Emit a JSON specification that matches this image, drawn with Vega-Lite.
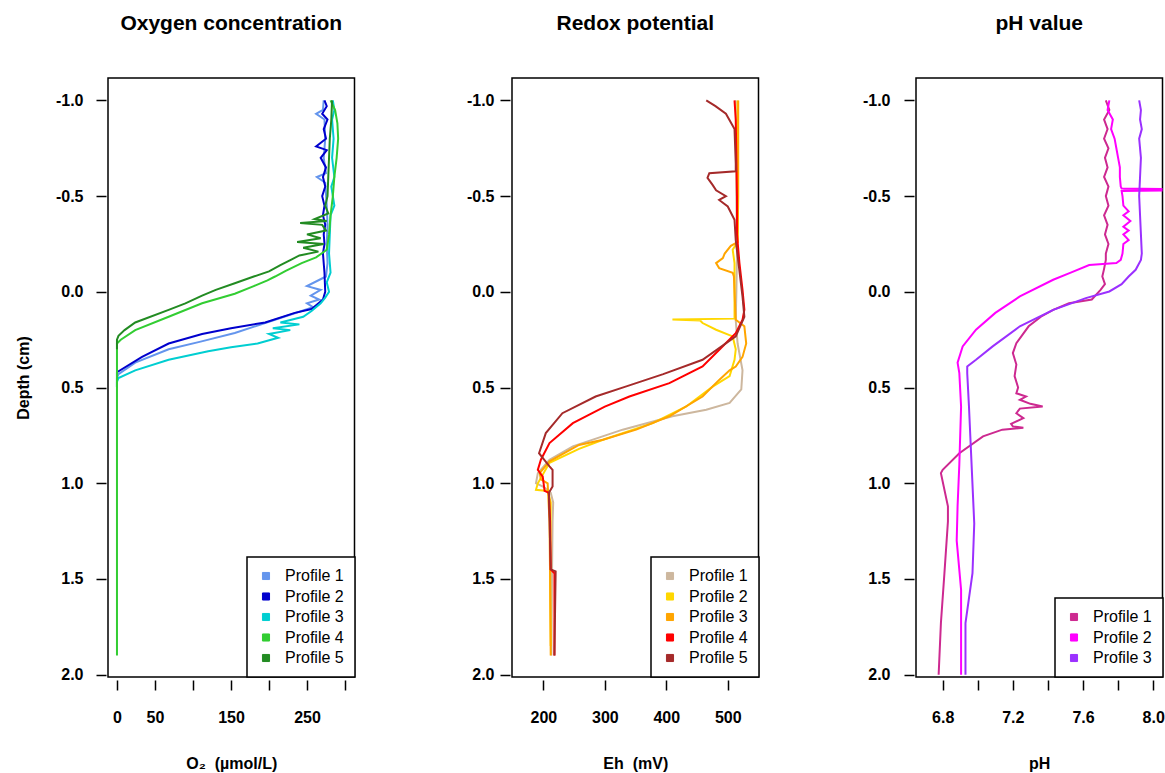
{
  "$schema": "https://vega.github.io/schema/vega-lite/v6.json",
  "background": "white",
  "padding": {"left": 14, "top": 12, "right": 2, "bottom": 5},
  "bounds": "flush",
  "spacing": 157,
  "config": {
    "font": "Liberation Sans",
    "view": {"stroke": "black", "strokeWidth": 1.5},
    "axis": {"grid": false, "domain": false, "labelFont": "Liberation Sans", "labelFontWeight": "bold", "labelFontSize": 16, "labelColor": "black", "tickColor": "black", "tickWidth": 1.5, "titleFont": "Liberation Sans", "titleFontWeight": "bold", "titleFontSize": 16, "titleColor": "black"},
    "axisX": {"offset": 3, "tickSize": 10, "labelPadding": 19, "titlePadding": 30, "labelOverlap": false},
    "axisY": {"offset": 2, "tickSize": 10, "labelPadding": 13, "titlePadding": 24, "labelOverlap": false},
    "title": {"font": "Liberation Sans", "fontSize": 21, "fontWeight": "bold", "color": "black", "anchor": "middle", "offset": 44},
    "legend": {"orient": "bottom-right", "offset": 0, "title": null, "strokeColor": "black", "strokeWidth": 1.5, "fillColor": "white", "padding": 11, "labelFont": "Liberation Sans", "labelFontSize": 16, "labelColor": "black", "symbolType": "square", "symbolSize": 50, "symbolStrokeColor": "#333333", "symbolStrokeWidth": 1, "rowPadding": 4.5, "labelOffset": 11}
  },
  "datasets": {
    "o2": [
      {"profile": "Profile 1", "depth": -1.0, "value": 272}, {"profile": "Profile 1", "depth": -0.95, "value": 271}, {"profile": "Profile 1", "depth": -0.93, "value": 262}, {"profile": "Profile 1", "depth": -0.9, "value": 273}, {"profile": "Profile 1", "depth": -0.8, "value": 274}, {"profile": "Profile 1", "depth": -0.7, "value": 272}, {"profile": "Profile 1", "depth": -0.62, "value": 275}, {"profile": "Profile 1", "depth": -0.6, "value": 263}, {"profile": "Profile 1", "depth": -0.57, "value": 274}, {"profile": "Profile 1", "depth": -0.45, "value": 276}, {"profile": "Profile 1", "depth": -0.35, "value": 277}, {"profile": "Profile 1", "depth": -0.25, "value": 276}, {"profile": "Profile 1", "depth": -0.15, "value": 277}, {"profile": "Profile 1", "depth": -0.08, "value": 275}, {"profile": "Profile 1", "depth": -0.03, "value": 250}, {"profile": "Profile 1", "depth": -0.01, "value": 268}, {"profile": "Profile 1", "depth": 0.02, "value": 255}, {"profile": "Profile 1", "depth": 0.04, "value": 266}, {"profile": "Profile 1", "depth": 0.06, "value": 250}, {"profile": "Profile 1", "depth": 0.08, "value": 258}, {"profile": "Profile 1", "depth": 0.1, "value": 243}, {"profile": "Profile 1", "depth": 0.15, "value": 205}, {"profile": "Profile 1", "depth": 0.215, "value": 155}, {"profile": "Profile 1", "depth": 0.26, "value": 110}, {"profile": "Profile 1", "depth": 0.3, "value": 68}, {"profile": "Profile 1", "depth": 0.37, "value": 24}, {"profile": "Profile 1", "depth": 0.43, "value": 2}, {"profile": "Profile 1", "depth": 0.45, "value": 0}, {"profile": "Profile 1", "depth": 0.5, "value": 0},
      {"profile": "Profile 2", "depth": -1.0, "value": 273}, {"profile": "Profile 2", "depth": -0.97, "value": 276}, {"profile": "Profile 2", "depth": -0.93, "value": 270}, {"profile": "Profile 2", "depth": -0.9, "value": 277}, {"profile": "Profile 2", "depth": -0.85, "value": 272}, {"profile": "Profile 2", "depth": -0.8, "value": 275}, {"profile": "Profile 2", "depth": -0.76, "value": 262}, {"profile": "Profile 2", "depth": -0.74, "value": 276}, {"profile": "Profile 2", "depth": -0.7, "value": 268}, {"profile": "Profile 2", "depth": -0.65, "value": 275}, {"profile": "Profile 2", "depth": -0.6, "value": 271}, {"profile": "Profile 2", "depth": -0.55, "value": 274}, {"profile": "Profile 2", "depth": -0.5, "value": 270}, {"profile": "Profile 2", "depth": -0.45, "value": 273}, {"profile": "Profile 2", "depth": -0.4, "value": 271}, {"profile": "Profile 2", "depth": -0.35, "value": 274}, {"profile": "Profile 2", "depth": -0.3, "value": 272}, {"profile": "Profile 2", "depth": -0.25, "value": 273}, {"profile": "Profile 2", "depth": -0.2, "value": 271}, {"profile": "Profile 2", "depth": -0.1, "value": 273}, {"profile": "Profile 2", "depth": 0.0, "value": 274}, {"profile": "Profile 2", "depth": 0.04, "value": 271}, {"profile": "Profile 2", "depth": 0.07, "value": 262}, {"profile": "Profile 2", "depth": 0.09, "value": 256}, {"profile": "Profile 2", "depth": 0.11, "value": 234}, {"profile": "Profile 2", "depth": 0.16, "value": 195}, {"profile": "Profile 2", "depth": 0.19, "value": 150}, {"profile": "Profile 2", "depth": 0.22, "value": 112}, {"profile": "Profile 2", "depth": 0.27, "value": 68}, {"profile": "Profile 2", "depth": 0.34, "value": 33}, {"profile": "Profile 2", "depth": 0.42, "value": 0}, {"profile": "Profile 2", "depth": 0.5, "value": 0},
      {"profile": "Profile 3", "depth": -1.0, "value": 284}, {"profile": "Profile 3", "depth": -0.95, "value": 286}, {"profile": "Profile 3", "depth": -0.9, "value": 283}, {"profile": "Profile 3", "depth": -0.8, "value": 285}, {"profile": "Profile 3", "depth": -0.7, "value": 283}, {"profile": "Profile 3", "depth": -0.6, "value": 286}, {"profile": "Profile 3", "depth": -0.55, "value": 282}, {"profile": "Profile 3", "depth": -0.5, "value": 284}, {"profile": "Profile 3", "depth": -0.45, "value": 286}, {"profile": "Profile 3", "depth": -0.4, "value": 281}, {"profile": "Profile 3", "depth": -0.3, "value": 280}, {"profile": "Profile 3", "depth": -0.2, "value": 279}, {"profile": "Profile 3", "depth": -0.1, "value": 281}, {"profile": "Profile 3", "depth": -0.05, "value": 276}, {"profile": "Profile 3", "depth": 0.0, "value": 279}, {"profile": "Profile 3", "depth": 0.03, "value": 274}, {"profile": "Profile 3", "depth": 0.06, "value": 268}, {"profile": "Profile 3", "depth": 0.1, "value": 256}, {"profile": "Profile 3", "depth": 0.13, "value": 245}, {"profile": "Profile 3", "depth": 0.16, "value": 215}, {"profile": "Profile 3", "depth": 0.17, "value": 240}, {"profile": "Profile 3", "depth": 0.19, "value": 205}, {"profile": "Profile 3", "depth": 0.2, "value": 228}, {"profile": "Profile 3", "depth": 0.22, "value": 200}, {"profile": "Profile 3", "depth": 0.24, "value": 212}, {"profile": "Profile 3", "depth": 0.27, "value": 185}, {"profile": "Profile 3", "depth": 0.29, "value": 150}, {"profile": "Profile 3", "depth": 0.31, "value": 120}, {"profile": "Profile 3", "depth": 0.355, "value": 68}, {"profile": "Profile 3", "depth": 0.41, "value": 24}, {"profile": "Profile 3", "depth": 0.45, "value": 2}, {"profile": "Profile 3", "depth": 0.47, "value": 0}, {"profile": "Profile 3", "depth": 0.5, "value": 0},
      {"profile": "Profile 4", "depth": -1.0, "value": 281}, {"profile": "Profile 4", "depth": -0.95, "value": 287}, {"profile": "Profile 4", "depth": -0.88, "value": 290}, {"profile": "Profile 4", "depth": -0.8, "value": 291}, {"profile": "Profile 4", "depth": -0.7, "value": 289}, {"profile": "Profile 4", "depth": -0.6, "value": 286}, {"profile": "Profile 4", "depth": -0.5, "value": 284}, {"profile": "Profile 4", "depth": -0.4, "value": 281}, {"profile": "Profile 4", "depth": -0.3, "value": 279}, {"profile": "Profile 4", "depth": -0.22, "value": 276}, {"profile": "Profile 4", "depth": -0.18, "value": 262}, {"profile": "Profile 4", "depth": -0.15, "value": 243}, {"profile": "Profile 4", "depth": -0.11, "value": 222}, {"profile": "Profile 4", "depth": -0.08, "value": 208}, {"profile": "Profile 4", "depth": -0.06, "value": 198}, {"profile": "Profile 4", "depth": -0.03, "value": 180}, {"profile": "Profile 4", "depth": 0.01, "value": 155}, {"profile": "Profile 4", "depth": 0.06, "value": 112}, {"profile": "Profile 4", "depth": 0.13, "value": 68}, {"profile": "Profile 4", "depth": 0.2, "value": 24}, {"profile": "Profile 4", "depth": 0.25, "value": 5}, {"profile": "Profile 4", "depth": 0.27, "value": 0}, {"profile": "Profile 4", "depth": 1.9, "value": 0},
      {"profile": "Profile 5", "depth": -1.0, "value": 283}, {"profile": "Profile 5", "depth": -0.9, "value": 282}, {"profile": "Profile 5", "depth": -0.8, "value": 280}, {"profile": "Profile 5", "depth": -0.7, "value": 279}, {"profile": "Profile 5", "depth": -0.6, "value": 278}, {"profile": "Profile 5", "depth": -0.5, "value": 277}, {"profile": "Profile 5", "depth": -0.45, "value": 274}, {"profile": "Profile 5", "depth": -0.41, "value": 278}, {"profile": "Profile 5", "depth": -0.38, "value": 260}, {"profile": "Profile 5", "depth": -0.37, "value": 276}, {"profile": "Profile 5", "depth": -0.36, "value": 241}, {"profile": "Profile 5", "depth": -0.35, "value": 270}, {"profile": "Profile 5", "depth": -0.32, "value": 275}, {"profile": "Profile 5", "depth": -0.3, "value": 250}, {"profile": "Profile 5", "depth": -0.28, "value": 268}, {"profile": "Profile 5", "depth": -0.26, "value": 237}, {"profile": "Profile 5", "depth": -0.25, "value": 272}, {"profile": "Profile 5", "depth": -0.23, "value": 245}, {"profile": "Profile 5", "depth": -0.21, "value": 265}, {"profile": "Profile 5", "depth": -0.19, "value": 240}, {"profile": "Profile 5", "depth": -0.17, "value": 230}, {"profile": "Profile 5", "depth": -0.14, "value": 215}, {"profile": "Profile 5", "depth": -0.107, "value": 200}, {"profile": "Profile 5", "depth": -0.08, "value": 180}, {"profile": "Profile 5", "depth": -0.045, "value": 155}, {"profile": "Profile 5", "depth": -0.01, "value": 130}, {"profile": "Profile 5", "depth": 0.02, "value": 112}, {"profile": "Profile 5", "depth": 0.06, "value": 90}, {"profile": "Profile 5", "depth": 0.094, "value": 68}, {"profile": "Profile 5", "depth": 0.16, "value": 24}, {"profile": "Profile 5", "depth": 0.2, "value": 10}, {"profile": "Profile 5", "depth": 0.23, "value": 2}, {"profile": "Profile 5", "depth": 0.25, "value": 0}, {"profile": "Profile 5", "depth": 0.3, "value": 0}
    ],
    "eh": [
      {"profile": "Profile 1", "depth": -1.0, "value": 513}, {"profile": "Profile 1", "depth": -0.5, "value": 514}, {"profile": "Profile 1", "depth": -0.2, "value": 515}, {"profile": "Profile 1", "depth": 0.0, "value": 514}, {"profile": "Profile 1", "depth": 0.15, "value": 513}, {"profile": "Profile 1", "depth": 0.27, "value": 516}, {"profile": "Profile 1", "depth": 0.41, "value": 524}, {"profile": "Profile 1", "depth": 0.51, "value": 522}, {"profile": "Profile 1", "depth": 0.58, "value": 503}, {"profile": "Profile 1", "depth": 0.616, "value": 465}, {"profile": "Profile 1", "depth": 0.65, "value": 410}, {"profile": "Profile 1", "depth": 0.72, "value": 329}, {"profile": "Profile 1", "depth": 0.807, "value": 248}, {"profile": "Profile 1", "depth": 0.877, "value": 210}, {"profile": "Profile 1", "depth": 0.947, "value": 191}, {"profile": "Profile 1", "depth": 1.0, "value": 188}, {"profile": "Profile 1", "depth": 1.02, "value": 201}, {"profile": "Profile 1", "depth": 1.05, "value": 212}, {"profile": "Profile 1", "depth": 1.1, "value": 216}, {"profile": "Profile 1", "depth": 1.2, "value": 215}, {"profile": "Profile 1", "depth": 1.5, "value": 214}, {"profile": "Profile 1", "depth": 1.9, "value": 213},
      {"profile": "Profile 2", "depth": -1.0, "value": 516}, {"profile": "Profile 2", "depth": -0.5, "value": 516}, {"profile": "Profile 2", "depth": -0.26, "value": 516}, {"profile": "Profile 2", "depth": -0.22, "value": 508}, {"profile": "Profile 2", "depth": -0.15, "value": 511}, {"profile": "Profile 2", "depth": 0.0, "value": 511}, {"profile": "Profile 2", "depth": 0.14, "value": 511}, {"profile": "Profile 2", "depth": 0.145, "value": 410}, {"profile": "Profile 2", "depth": 0.15, "value": 455}, {"profile": "Profile 2", "depth": 0.163, "value": 459}, {"profile": "Profile 2", "depth": 0.18, "value": 470}, {"profile": "Profile 2", "depth": 0.198, "value": 481}, {"profile": "Profile 2", "depth": 0.233, "value": 508}, {"profile": "Profile 2", "depth": 0.3, "value": 513}, {"profile": "Profile 2", "depth": 0.355, "value": 511}, {"profile": "Profile 2", "depth": 0.44, "value": 503}, {"profile": "Profile 2", "depth": 0.494, "value": 476}, {"profile": "Profile 2", "depth": 0.6, "value": 432}, {"profile": "Profile 2", "depth": 0.686, "value": 378}, {"profile": "Profile 2", "depth": 0.773, "value": 297}, {"profile": "Profile 2", "depth": 0.82, "value": 258}, {"profile": "Profile 2", "depth": 0.893, "value": 210}, {"profile": "Profile 2", "depth": 1.0, "value": 191}, {"profile": "Profile 2", "depth": 1.034, "value": 188}, {"profile": "Profile 2", "depth": 1.04, "value": 207}, {"profile": "Profile 2", "depth": 1.1, "value": 212}, {"profile": "Profile 2", "depth": 1.5, "value": 211}, {"profile": "Profile 2", "depth": 1.85, "value": 212},
      {"profile": "Profile 3", "depth": -1.0, "value": 517}, {"profile": "Profile 3", "depth": -0.5, "value": 517}, {"profile": "Profile 3", "depth": -0.26, "value": 516}, {"profile": "Profile 3", "depth": -0.24, "value": 505}, {"profile": "Profile 3", "depth": -0.2, "value": 495}, {"profile": "Profile 3", "depth": -0.176, "value": 492}, {"profile": "Profile 3", "depth": -0.15, "value": 481}, {"profile": "Profile 3", "depth": -0.124, "value": 486}, {"profile": "Profile 3", "depth": -0.1, "value": 508}, {"profile": "Profile 3", "depth": -0.08, "value": 510}, {"profile": "Profile 3", "depth": 0.0, "value": 511}, {"profile": "Profile 3", "depth": 0.146, "value": 513}, {"profile": "Profile 3", "depth": 0.18, "value": 527}, {"profile": "Profile 3", "depth": 0.27, "value": 530}, {"profile": "Profile 3", "depth": 0.34, "value": 524}, {"profile": "Profile 3", "depth": 0.39, "value": 513}, {"profile": "Profile 3", "depth": 0.41, "value": 503}, {"profile": "Profile 3", "depth": 0.46, "value": 486}, {"profile": "Profile 3", "depth": 0.547, "value": 459}, {"profile": "Profile 3", "depth": 0.65, "value": 405}, {"profile": "Profile 3", "depth": 0.72, "value": 351}, {"profile": "Profile 3", "depth": 0.773, "value": 297}, {"profile": "Profile 3", "depth": 0.8, "value": 258}, {"profile": "Profile 3", "depth": 0.885, "value": 210}, {"profile": "Profile 3", "depth": 0.947, "value": 194}, {"profile": "Profile 3", "depth": 0.98, "value": 196}, {"profile": "Profile 3", "depth": 1.0, "value": 207}, {"profile": "Profile 3", "depth": 1.2, "value": 210}, {"profile": "Profile 3", "depth": 1.5, "value": 211}, {"profile": "Profile 3", "depth": 1.9, "value": 212},
      {"profile": "Profile 4", "depth": -1.0, "value": 511}, {"profile": "Profile 4", "depth": -0.9, "value": 513}, {"profile": "Profile 4", "depth": -0.7, "value": 514}, {"profile": "Profile 4", "depth": -0.5, "value": 515}, {"profile": "Profile 4", "depth": -0.3, "value": 515}, {"profile": "Profile 4", "depth": -0.15, "value": 519}, {"profile": "Profile 4", "depth": -0.01, "value": 524}, {"profile": "Profile 4", "depth": 0.094, "value": 527}, {"profile": "Profile 4", "depth": 0.146, "value": 524}, {"profile": "Profile 4", "depth": 0.216, "value": 513}, {"profile": "Profile 4", "depth": 0.3, "value": 487}, {"profile": "Profile 4", "depth": 0.39, "value": 459}, {"profile": "Profile 4", "depth": 0.477, "value": 405}, {"profile": "Profile 4", "depth": 0.547, "value": 340}, {"profile": "Profile 4", "depth": 0.6, "value": 300}, {"profile": "Profile 4", "depth": 0.686, "value": 248}, {"profile": "Profile 4", "depth": 0.79, "value": 210}, {"profile": "Profile 4", "depth": 0.877, "value": 196}, {"profile": "Profile 4", "depth": 0.93, "value": 191}, {"profile": "Profile 4", "depth": 0.965, "value": 199}, {"profile": "Profile 4", "depth": 1.04, "value": 202}, {"profile": "Profile 4", "depth": 1.05, "value": 209}, {"profile": "Profile 4", "depth": 1.2, "value": 211}, {"profile": "Profile 4", "depth": 1.45, "value": 212}, {"profile": "Profile 4", "depth": 1.47, "value": 218}, {"profile": "Profile 4", "depth": 1.9, "value": 218},
      {"profile": "Profile 5", "depth": -1.0, "value": 465}, {"profile": "Profile 5", "depth": -0.97, "value": 480}, {"profile": "Profile 5", "depth": -0.93, "value": 497}, {"profile": "Profile 5", "depth": -0.85, "value": 511}, {"profile": "Profile 5", "depth": -0.67, "value": 513}, {"profile": "Profile 5", "depth": -0.63, "value": 513}, {"profile": "Profile 5", "depth": -0.62, "value": 470}, {"profile": "Profile 5", "depth": -0.595, "value": 467}, {"profile": "Profile 5", "depth": -0.56, "value": 475}, {"profile": "Profile 5", "depth": -0.53, "value": 481}, {"profile": "Profile 5", "depth": -0.5, "value": 497}, {"profile": "Profile 5", "depth": -0.48, "value": 486}, {"profile": "Profile 5", "depth": -0.446, "value": 500}, {"profile": "Profile 5", "depth": -0.376, "value": 511}, {"profile": "Profile 5", "depth": -0.27, "value": 513}, {"profile": "Profile 5", "depth": 0.025, "value": 524}, {"profile": "Profile 5", "depth": 0.13, "value": 527}, {"profile": "Profile 5", "depth": 0.233, "value": 513}, {"profile": "Profile 5", "depth": 0.355, "value": 459}, {"profile": "Profile 5", "depth": 0.43, "value": 395}, {"profile": "Profile 5", "depth": 0.494, "value": 335}, {"profile": "Profile 5", "depth": 0.547, "value": 285}, {"profile": "Profile 5", "depth": 0.634, "value": 231}, {"profile": "Profile 5", "depth": 0.738, "value": 204}, {"profile": "Profile 5", "depth": 0.843, "value": 193}, {"profile": "Profile 5", "depth": 0.86, "value": 197}, {"profile": "Profile 5", "depth": 0.912, "value": 210}, {"profile": "Profile 5", "depth": 0.93, "value": 215}, {"profile": "Profile 5", "depth": 1.017, "value": 215}, {"profile": "Profile 5", "depth": 1.05, "value": 209}, {"profile": "Profile 5", "depth": 1.45, "value": 212}, {"profile": "Profile 5", "depth": 1.46, "value": 220}, {"profile": "Profile 5", "depth": 1.9, "value": 218}
    ],
    "ph": [
      {"profile": "Profile 1", "depth": -1.0, "value": 7.73}, {"profile": "Profile 1", "depth": -0.95, "value": 7.75}, {"profile": "Profile 1", "depth": -0.9, "value": 7.72}, {"profile": "Profile 1", "depth": -0.85, "value": 7.74}, {"profile": "Profile 1", "depth": -0.8, "value": 7.72}, {"profile": "Profile 1", "depth": -0.75, "value": 7.745}, {"profile": "Profile 1", "depth": -0.7, "value": 7.725}, {"profile": "Profile 1", "depth": -0.65, "value": 7.74}, {"profile": "Profile 1", "depth": -0.6, "value": 7.72}, {"profile": "Profile 1", "depth": -0.55, "value": 7.745}, {"profile": "Profile 1", "depth": -0.5, "value": 7.73}, {"profile": "Profile 1", "depth": -0.45, "value": 7.745}, {"profile": "Profile 1", "depth": -0.4, "value": 7.72}, {"profile": "Profile 1", "depth": -0.35, "value": 7.74}, {"profile": "Profile 1", "depth": -0.3, "value": 7.725}, {"profile": "Profile 1", "depth": -0.25, "value": 7.745}, {"profile": "Profile 1", "depth": -0.2, "value": 7.73}, {"profile": "Profile 1", "depth": -0.167, "value": 7.73}, {"profile": "Profile 1", "depth": -0.12, "value": 7.72}, {"profile": "Profile 1", "depth": -0.08, "value": 7.71}, {"profile": "Profile 1", "depth": -0.04, "value": 7.725}, {"profile": "Profile 1", "depth": -0.01, "value": 7.7}, {"profile": "Profile 1", "depth": 0.04, "value": 7.65}, {"profile": "Profile 1", "depth": 0.06, "value": 7.52}, {"profile": "Profile 1", "depth": 0.094, "value": 7.43}, {"profile": "Profile 1", "depth": 0.13, "value": 7.36}, {"profile": "Profile 1", "depth": 0.18, "value": 7.29}, {"profile": "Profile 1", "depth": 0.268, "value": 7.22}, {"profile": "Profile 1", "depth": 0.32, "value": 7.2}, {"profile": "Profile 1", "depth": 0.38, "value": 7.22}, {"profile": "Profile 1", "depth": 0.44, "value": 7.21}, {"profile": "Profile 1", "depth": 0.5, "value": 7.23}, {"profile": "Profile 1", "depth": 0.53, "value": 7.22}, {"profile": "Profile 1", "depth": 0.547, "value": 7.275}, {"profile": "Profile 1", "depth": 0.564, "value": 7.24}, {"profile": "Profile 1", "depth": 0.585, "value": 7.3}, {"profile": "Profile 1", "depth": 0.599, "value": 7.37}, {"profile": "Profile 1", "depth": 0.61, "value": 7.24}, {"profile": "Profile 1", "depth": 0.634, "value": 7.22}, {"profile": "Profile 1", "depth": 0.66, "value": 7.26}, {"profile": "Profile 1", "depth": 0.69, "value": 7.19}, {"profile": "Profile 1", "depth": 0.703, "value": 7.2}, {"profile": "Profile 1", "depth": 0.71, "value": 7.26}, {"profile": "Profile 1", "depth": 0.72, "value": 7.14}, {"profile": "Profile 1", "depth": 0.755, "value": 7.03}, {"profile": "Profile 1", "depth": 0.843, "value": 6.895}, {"profile": "Profile 1", "depth": 0.93, "value": 6.8}, {"profile": "Profile 1", "depth": 0.947, "value": 6.79}, {"profile": "Profile 1", "depth": 1.12, "value": 6.83}, {"profile": "Profile 1", "depth": 1.2, "value": 6.83}, {"profile": "Profile 1", "depth": 1.47, "value": 6.81}, {"profile": "Profile 1", "depth": 1.73, "value": 6.79}, {"profile": "Profile 1", "depth": 2.0, "value": 6.777},
      {"profile": "Profile 2", "depth": -1.0, "value": 7.75}, {"profile": "Profile 2", "depth": -0.95, "value": 7.74}, {"profile": "Profile 2", "depth": -0.9, "value": 7.77}, {"profile": "Profile 2", "depth": -0.85, "value": 7.76}, {"profile": "Profile 2", "depth": -0.8, "value": 7.78}, {"profile": "Profile 2", "depth": -0.75, "value": 7.79}, {"profile": "Profile 2", "depth": -0.7, "value": 7.8}, {"profile": "Profile 2", "depth": -0.65, "value": 7.81}, {"profile": "Profile 2", "depth": -0.6, "value": 7.81}, {"profile": "Profile 2", "depth": -0.55, "value": 7.815}, {"profile": "Profile 2", "depth": -0.54, "value": 7.82}, {"profile": "Profile 2", "depth": -0.537, "value": 8.1}, {"profile": "Profile 2", "depth": -0.535, "value": 7.83}, {"profile": "Profile 2", "depth": -0.533, "value": 8.1}, {"profile": "Profile 2", "depth": -0.531, "value": 7.83}, {"profile": "Profile 2", "depth": -0.529, "value": 8.1}, {"profile": "Profile 2", "depth": -0.527, "value": 7.82}, {"profile": "Profile 2", "depth": -0.5, "value": 7.825}, {"profile": "Profile 2", "depth": -0.45, "value": 7.83}, {"profile": "Profile 2", "depth": -0.42, "value": 7.86}, {"profile": "Profile 2", "depth": -0.4, "value": 7.83}, {"profile": "Profile 2", "depth": -0.37, "value": 7.87}, {"profile": "Profile 2", "depth": -0.34, "value": 7.83}, {"profile": "Profile 2", "depth": -0.32, "value": 7.86}, {"profile": "Profile 2", "depth": -0.3, "value": 7.83}, {"profile": "Profile 2", "depth": -0.27, "value": 7.86}, {"profile": "Profile 2", "depth": -0.25, "value": 7.83}, {"profile": "Profile 2", "depth": -0.2, "value": 7.825}, {"profile": "Profile 2", "depth": -0.167, "value": 7.815}, {"profile": "Profile 2", "depth": -0.15, "value": 7.79}, {"profile": "Profile 2", "depth": -0.14, "value": 7.635}, {"profile": "Profile 2", "depth": -0.1, "value": 7.53}, {"profile": "Profile 2", "depth": -0.063, "value": 7.43}, {"profile": "Profile 2", "depth": 0.024, "value": 7.24}, {"profile": "Profile 2", "depth": 0.11, "value": 7.1}, {"profile": "Profile 2", "depth": 0.198, "value": 6.99}, {"profile": "Profile 2", "depth": 0.285, "value": 6.914}, {"profile": "Profile 2", "depth": 0.37, "value": 6.885}, {"profile": "Profile 2", "depth": 0.425, "value": 6.895}, {"profile": "Profile 2", "depth": 0.6, "value": 6.905}, {"profile": "Profile 2", "depth": 0.9, "value": 6.895}, {"profile": "Profile 2", "depth": 1.12, "value": 6.885}, {"profile": "Profile 2", "depth": 1.3, "value": 6.88}, {"profile": "Profile 2", "depth": 1.557, "value": 6.905}, {"profile": "Profile 2", "depth": 2.0, "value": 6.905},
      {"profile": "Profile 3", "depth": -1.0, "value": 7.92}, {"profile": "Profile 3", "depth": -0.95, "value": 7.93}, {"profile": "Profile 3", "depth": -0.9, "value": 7.925}, {"profile": "Profile 3", "depth": -0.85, "value": 7.935}, {"profile": "Profile 3", "depth": -0.8, "value": 7.92}, {"profile": "Profile 3", "depth": -0.7, "value": 7.93}, {"profile": "Profile 3", "depth": -0.6, "value": 7.925}, {"profile": "Profile 3", "depth": -0.5, "value": 7.92}, {"profile": "Profile 3", "depth": -0.4, "value": 7.925}, {"profile": "Profile 3", "depth": -0.3, "value": 7.93}, {"profile": "Profile 3", "depth": -0.2, "value": 7.935}, {"profile": "Profile 3", "depth": -0.167, "value": 7.93}, {"profile": "Profile 3", "depth": -0.115, "value": 7.9}, {"profile": "Profile 3", "depth": -0.08, "value": 7.86}, {"profile": "Profile 3", "depth": -0.04, "value": 7.82}, {"profile": "Profile 3", "depth": -0.002, "value": 7.75}, {"profile": "Profile 3", "depth": 0.033, "value": 7.616}, {"profile": "Profile 3", "depth": 0.094, "value": 7.43}, {"profile": "Profile 3", "depth": 0.18, "value": 7.24}, {"profile": "Profile 3", "depth": 0.285, "value": 7.085}, {"profile": "Profile 3", "depth": 0.355, "value": 6.99}, {"profile": "Profile 3", "depth": 0.39, "value": 6.94}, {"profile": "Profile 3", "depth": 0.425, "value": 6.94}, {"profile": "Profile 3", "depth": 0.6, "value": 6.95}, {"profile": "Profile 3", "depth": 1.21, "value": 6.98}, {"profile": "Profile 3", "depth": 1.47, "value": 6.97}, {"profile": "Profile 3", "depth": 1.73, "value": 6.93}, {"profile": "Profile 3", "depth": 2.0, "value": 6.93}
    ]
  },
  "hconcat": [
    {
      "name": "oxy",
      "width": 246.5,
      "height": 599,
      "title": "Oxygen concentration",
      "data": {"name": "o2"},
      "mark": {"type": "line", "strokeWidth": 2, "clip": true},
      "encoding": {
        "x": {"field": "value", "type": "quantitative", "scale": {"domain": [-11.8, 312.5], "nice": false, "zero": false}, "axis": {"title": "O₂ \u00a0(µmol/L)", "values": [0, 50, 100, 150, 200, 250, 300], "labelExpr": "indexof([0,50,150,250], datum.value) >= 0 ? datum.label : ''"}},
        "y": {"field": "depth", "type": "quantitative", "scale": {"domain": [-1.117, 2.012], "reverse": true, "nice": false, "zero": false}, "axis": {"title": "Depth (cm)", "values": [-1, -0.5, 0, 0.5, 1, 1.5, 2], "labelExpr": "replace(format(datum.value, '.1f'), '−', '-')"}},
        "color": {"field": "profile", "type": "nominal", "scale": {"domain": ["Profile 1", "Profile 2", "Profile 3", "Profile 4", "Profile 5"], "range": ["#6495ED", "#0000CD", "#00CED1", "#32CD32", "#228B22"]}, "legend": {"encode": {"symbols": {"enter": {"stroke": {"value": "#333333"}}, "update": {"fill": {"scale": "oxy_color", "field": "value"}, "stroke": {"value": "#333333"}, "strokeWidth": {"value": 1}}}}}},
        "order": {"value": null}
      }
    },
    {
      "name": "redox",
      "width": 246.5,
      "height": 599,
      "title": "Redox potential",
      "data": {"name": "eh"},
      "mark": {"type": "line", "strokeWidth": 2, "clip": true},
      "encoding": {
        "x": {"field": "value", "type": "quantitative", "scale": {"domain": [149, 550], "nice": false, "zero": false}, "axis": {"title": "Eh \u00a0(mV)", "values": [200, 300, 400, 500]}},
        "y": {"field": "depth", "type": "quantitative", "scale": {"domain": [-1.117, 2.012], "reverse": true, "nice": false, "zero": false}, "axis": {"title": null, "labelPadding": 6, "values": [-1, -0.5, 0, 0.5, 1, 1.5, 2], "labelExpr": "replace(format(datum.value, '.1f'), '−', '-')"}},
        "color": {"field": "profile", "type": "nominal", "scale": {"domain": ["Profile 1", "Profile 2", "Profile 3", "Profile 4", "Profile 5"], "range": ["#CDB79E", "#FFD700", "#FFA500", "#FF0000", "#A52A2A"]}, "legend": {"encode": {"symbols": {"enter": {"stroke": {"value": "#333333"}}, "update": {"fill": {"scale": "redox_color", "field": "value"}, "stroke": {"value": "#333333"}, "strokeWidth": {"value": 1}}}}}},
        "order": {"value": null}
      }
    },
    {
      "name": "phv",
      "width": 246.5,
      "height": 599,
      "title": "pH value",
      "data": {"name": "ph"},
      "mark": {"type": "line", "strokeWidth": 2, "clip": true},
      "encoding": {
        "x": {"field": "value", "type": "quantitative", "scale": {"domain": [6.648, 8.053], "nice": false, "zero": false}, "axis": {"title": "pH", "values": [6.8, 7.0, 7.2, 7.4, 7.6, 7.8, 8.0], "labelExpr": "round(datum.value * 10) % 4 == 0 ? format(datum.value, '.1f') : ''"}},
        "y": {"field": "depth", "type": "quantitative", "scale": {"domain": [-1.117, 2.012], "reverse": true, "nice": false, "zero": false}, "axis": {"title": null, "labelPadding": 14, "values": [-1, -0.5, 0, 0.5, 1, 1.5, 2], "labelExpr": "replace(format(datum.value, '.1f'), '−', '-')"}},
        "color": {"field": "profile", "type": "nominal", "scale": {"domain": ["Profile 1", "Profile 2", "Profile 3"], "range": ["#CD2990", "#FF00FF", "#9B30FF"]}, "legend": {"encode": {"symbols": {"enter": {"stroke": {"value": "#333333"}}, "update": {"fill": {"scale": "phv_color", "field": "value"}, "stroke": {"value": "#333333"}, "strokeWidth": {"value": 1}}}}}},
        "order": {"value": null}
      }
    }
  ],
  "resolve": {"scale": {"color": "independent", "x": "independent", "y": "independent"}, "legend": {"color": "independent"}}
}
